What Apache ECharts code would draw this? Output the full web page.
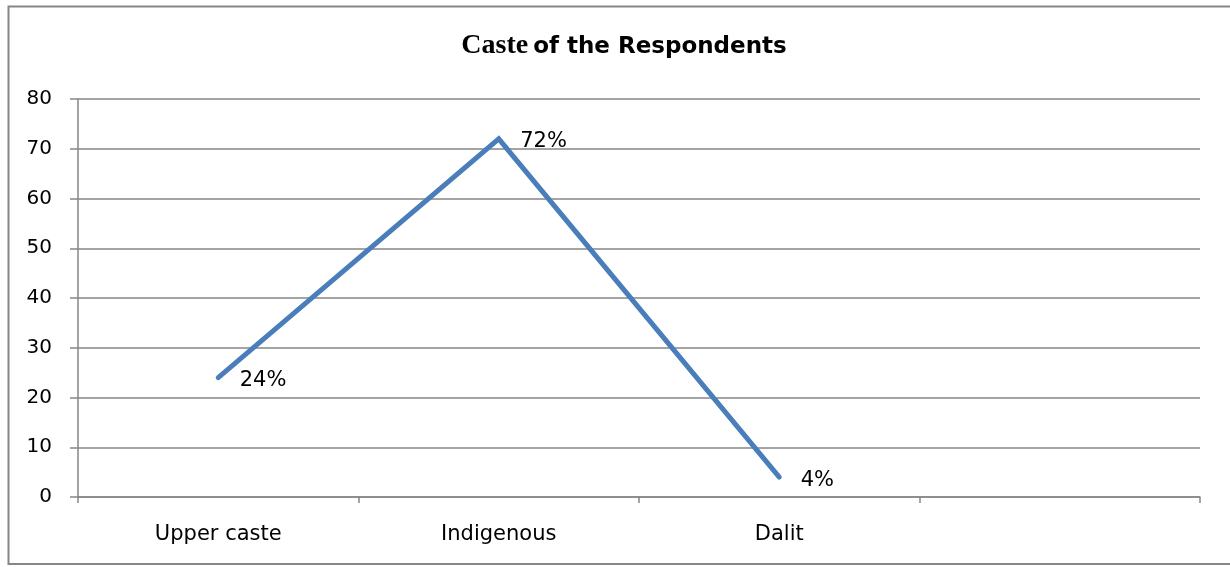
<!DOCTYPE html>
<html>
<head>
<meta charset="utf-8">
<script src="https://cdn.jsdelivr.net/npm/echarts@6/dist/echarts.min.js"></script>
<style>html,body{margin:0;padding:0;background:#fff;}#c{width:1230px;height:567px;}</style>
</head>
<body>
<div id="c"></div>
<script>
const categories = ["Upper caste", "Indigenous", "Dalit", ""];
const values = [24, 72, 4, null];
const yTicks = [0, 10, 20, 30, 40, 50, 60, 70, 80];

const chart = echarts.init(document.getElementById('c'), null, {renderer: 'canvas'});
const font = '"DejaVu Sans", sans-serif';
chart.setOption({
  animation: false,
  backgroundColor: '#fff',
  title: {
    text: '{a|Caste} {b|of the Respondents}',
    left: 619, top: 25, textAlign: 'center',
    textStyle: {
      rich: {
        a: {fontFamily: '"Liberation Serif", serif', fontWeight: 'bold', fontSize: 28, color: '#000', verticalAlign: 'bottom', lineHeight: 30},
        b: {fontFamily: font, fontWeight: 'bold', fontSize: 23, color: '#000', verticalAlign: 'bottom', lineHeight: 30, padding: [0, 0, 1, 0]}
      }
    }
  },
  graphic: [{
    type: 'rect', shape: {x: 8.5, y: 6.5, width: 1240, height: 557.5},
    style: {fill: 'none', stroke: '#868686', lineWidth: 2}, silent: true, z: -1
  }],
  grid: {left: 78, right: 30, top: 99, bottom: 70, containLabel: false},
  xAxis: {
    type: 'category', data: categories, boundaryGap: true,
    axisLine: {lineStyle: {color: '#868686', width: 1.5}},
    axisTick: {show: true, length: 6, lineStyle: {color: '#868686', width: 1.5}},
    axisLabel: {color: '#000', fontFamily: font, fontSize: 21, margin: 27}
  },
  yAxis: {
    type: 'value', min: yTicks[0], max: yTicks[yTicks.length - 1], interval: 10,
    axisLine: {show: true, lineStyle: {color: '#868686', width: 1.5}},
    axisTick: {show: true, length: 8, lineStyle: {color: '#868686', width: 1.5}},
    splitLine: {show: true, lineStyle: {color: '#868686', width: 1.5}},
    axisLabel: {color: '#000', fontFamily: font, fontSize: 20, margin: 26}
  },
  series: [{
    type: 'line', data: values, showSymbol: true, symbol: 'circle', symbolSize: 1,
    itemStyle: {color: 'rgba(0,0,0,0)'},
    lineStyle: {color: '#4a7ebb', width: 5, cap: 'round', join: 'miter'},
    label: {
      show: true, position: 'right', distance: 21, offset: [0, 3],
      formatter: p => p.value + '%', color: '#000', fontFamily: font, fontSize: 21
    }
  }]
});
</script>
</body>
</html>
